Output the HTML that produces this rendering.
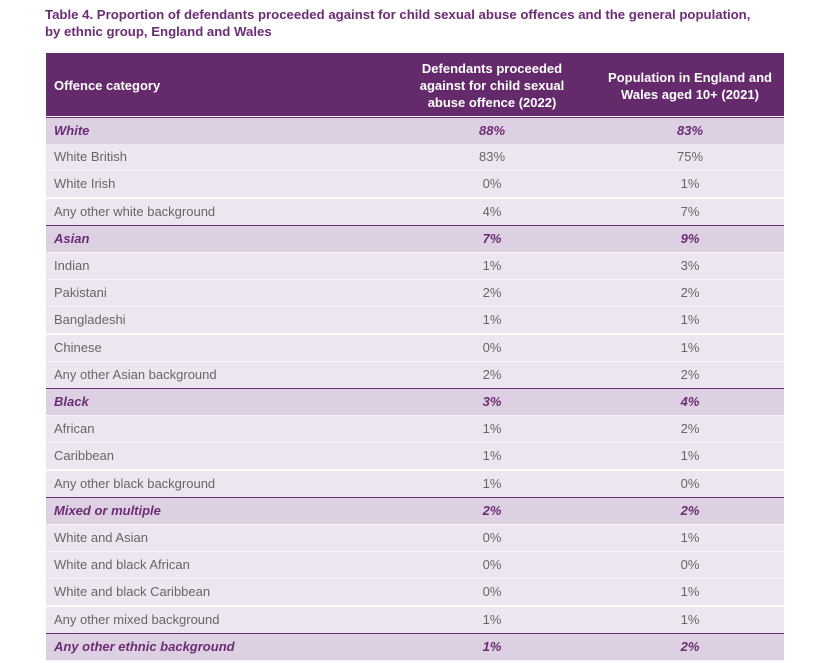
<!DOCTYPE html>
<html><head><meta charset="utf-8"><style>
body{margin:0;width:827px;height:663px;background:#fff;font-family:"Liberation Sans",sans-serif;position:relative;overflow:hidden}
.title{position:absolute;left:45px;top:6px;font-size:13.2px;font-weight:bold;color:#6b2d74;line-height:17px;width:780px}
.hdr{position:absolute;left:46px;top:53px;width:738px;height:63px;background:#652a6c;color:#fff;font-weight:bold;font-size:13px}
.hdr div{position:absolute;line-height:17px}
.row{position:absolute;left:46px;width:738px;height:26px;font-size:13px;color:#666;border-bottom:1px solid #f8f5f9}
.row div{position:absolute;top:0;line-height:26px}
.row .c1{left:8px}.row .c2{left:396px;width:100px;text-align:center}.row .c3{left:594px;width:100px;text-align:center}
.sub{background:#ede6f0}
.grp{background:#ddd0e2;color:#6b2d74;font-weight:bold;font-style:italic;border-top:1px solid #6b2d74}
</style></head><body>
<div class="title">Table 4. Proportion of defendants proceeded against for child sexual abuse offences and the general population,<br>by ethnic group, England and Wales</div>
<div class="hdr">
<div style="left:8px;top:24px">Offence category</div>
<div style="left:361px;top:7px;width:170px;text-align:center">Defendants proceeded against for child sexual abuse offence (2022)</div>
<div style="left:544px;top:16px;width:200px;text-align:center">Population in England and Wales aged 10+ (2021)</div>
</div>
<div id="rows"></div>
<script>
const categories=["White","White British","White Irish","Any other white background","Asian","Indian","Pakistani","Bangladeshi","Chinese","Any other Asian background","Black","African","Caribbean","Any other black background","Mixed or multiple","White and Asian","White and black African","White and black Caribbean","Any other mixed background","Any other ethnic background"];
const defendants=[88,83,0,4,7,1,2,1,0,2,3,1,1,1,2,0,0,0,1,1];
const population=[83,75,1,7,9,3,2,1,1,2,4,2,1,0,2,1,0,1,1,2];
const groups=[0,4,10,14,19];
const host=document.getElementById('rows');
categories.forEach((c,i)=>{
 const r=document.createElement('div');
 const g=groups.includes(i);
 r.className='row '+(g?'grp':'sub');
 r.style.top=(117+i*27.2-(g&&i>0?1:0))+'px';
 
 
 r.innerHTML='<div class="c1">'+c+'</div><div class="c2">'+defendants[i]+'%</div><div class="c3">'+population[i]+'%</div>';
 host.appendChild(r);
});
</script>
</body></html>
